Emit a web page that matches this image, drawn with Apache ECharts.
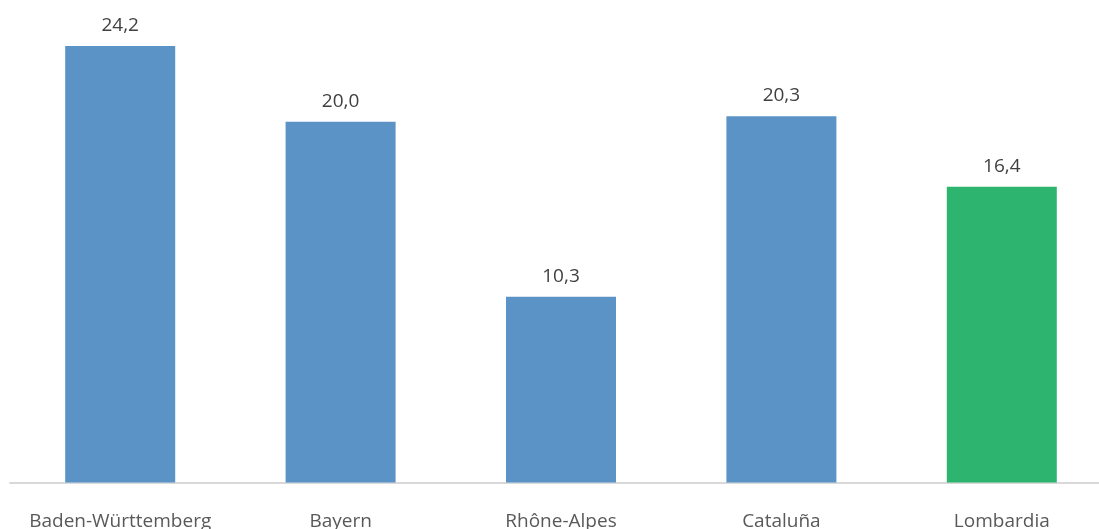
<!DOCTYPE html>
<html><head><meta charset="utf-8">
<script src="https://cdn.jsdelivr.net/npm/echarts@6/dist/echarts.min.js"></script>
<style>html,body{margin:0;padding:0;background:#fff;overflow:hidden}
#c{width:1099px;height:529px}</style>
</head><body><div id="c"></div>
<script>
const categories = ["Baden-Württemberg", "Bayern", "Rhône-Alpes", "Cataluña", "Lombardia"];
const values = [24.2, 20.0, 10.3, 20.3, 16.4];
const barColors = ["#5B93C7", "#5B93C7", "#5B93C7", "#5B93C7", "#2DB56F"];

const chart = echarts.init(document.getElementById('c'), null, {renderer: 'canvas'});
chart.setOption({
  animation: false,
  grid: {left: 10, width: 1102, top: 13.5, height: 469, containLabel: false, outerBoundsMode: 'none'},
  xAxis: {
    type: 'category', data: categories,
    axisLine: {lineStyle: {color: '#D9D9D9', width: 2}},
    axisTick: {show: false},
    axisLabel: {color: '#595959', fontFamily: 'Open Sans', fontSize: 19, margin: 30, interval: 0}
  },
  yAxis: {type: 'value', min: 0, max: 26, show: false, splitLine: {show: false}},
  series: [{
    type: 'bar', barWidth: 110,
    data: values.map((v, i) => ({value: v, itemStyle: {color: barColors[i]}})),
    label: {show: true, position: 'top', distance: 11, color: '#404040', fontFamily: 'Open Sans', fontSize: 19,
      formatter: p => p.value.toFixed(1).replace('.', ',')}
  }]
});
</script></body></html>
